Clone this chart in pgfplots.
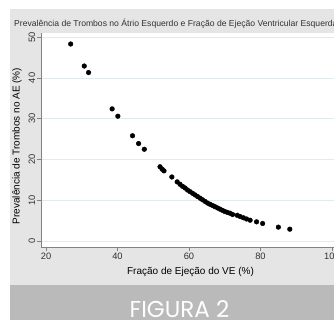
\documentclass[border=0pt]{standalone}
\usepackage{fontspec}
\setmainfont{Liberation Sans}
\newfontfamily\figfont{Poppins}
\usepackage{pgfplots}
\pgfplotsset{compat=1.18}
\definecolor{panel}{RGB}{229,229,229}
\definecolor{band}{RGB}{186,186,186}
\definecolor{gridc}{RGB}{226,234,237}
\definecolor{axc}{RGB}{130,130,130}
\definecolor{txt}{RGB}{50,50,50}
\begin{document}
\begin{tikzpicture}
\path[use as bounding box, fill=white] (0pt,0pt) rectangle (334pt,-321pt);
\fill[panel] (10pt,-9pt) rectangle (334pt,-285pt);
\fill[band] (10pt,-285pt) rectangle (334pt,-320pt);
\begin{scope}
\clip (0pt,0pt) rectangle (334pt,-321pt);
\node[anchor=base west, font=\fontsize{8.6}{10}\selectfont, text=txt, inner sep=0pt] at (14pt,-27pt) {Prevalência de Trombos no Átrio Esquerdo e Fração de Ejeção Ventricular Esquerda};
\begin{axis}[
  scale only axis, width=301.7pt, height=214pt,
  at={(41pt,-247pt)}, anchor=south west,
  xmin=18.6, xmax=103, ymin=-1.47, ymax=51,
  xtick={20,40,60,80,100}, ytick={0,10,20,30,40,50},
  axis x line*=bottom, axis y line*=left,
  axis line style={axc, line width=0.6pt},
  tick style={axc, line width=0.6pt},
  tick align=outside, major tick length=4pt,
  ymajorgrids, grid style={gridc, line width=0.6pt},
  axis background/.style={fill=white},
  tick label style={font=\fontsize{9.3}{11}\selectfont, text=txt},
  /pgf/number format/assume math mode=true,
  yticklabel style={rotate=90, anchor=south, inner sep=1.5pt},
  xticklabel style={anchor=north, inner sep=1.5pt},
  xlabel={Fração de Ejeção do VE (\%)},
  ylabel={Prevalência de Trombos no AE (\%)},
  label style={font=\fontsize{9.2}{11}\selectfont, text=txt},
  every axis x label/.style={at={(axis description cs:0.4955,-0.117)}, anchor=center},
  every axis y label/.style={at={(axis description cs:-0.0795,0.472)}, anchor=center, rotate=90},
]
\addplot[only marks, mark=*, mark size=2.35pt, mark options={fill=black, draw=black}] table {
x y
26.9 48.3
30.7 42.9
31.9 41.3
38.5 32.4
40.1 30.6
44.2 25.8
45.9 23.9
47.5 22.5
51.9 18.2
52.5 17.6
53.0 17.2
55.2 15.7
56.7 14.5
57.5 13.9
58.2 13.4
58.9 13.0
59.6 12.5
60.3 12.1
61.0 11.7
61.7 11.3
62.4 10.9
63.1 10.5
63.8 10.1
64.5 9.7
65.2 9.3
65.9 9.0
66.6 8.7
67.3 8.4
68.0 8.1
68.7 7.8
69.4 7.5
70.1 7.2
70.8 7.0
71.5 6.8
72.2 6.5
73.5 6.3
74.3 6.0
75.2 5.7
76.1 5.4
77.1 5.1
78.9 4.7
80.6 4.3
85.0 3.4
88.2 2.9
};
\end{axis}
\end{scope}
\node[font=\figfont\fontsize{23}{25}\selectfont, text=white, inner sep=0pt, anchor=base] at (179.5pt,-317pt) {FIGURA 2};
\end{tikzpicture}
\end{document}
